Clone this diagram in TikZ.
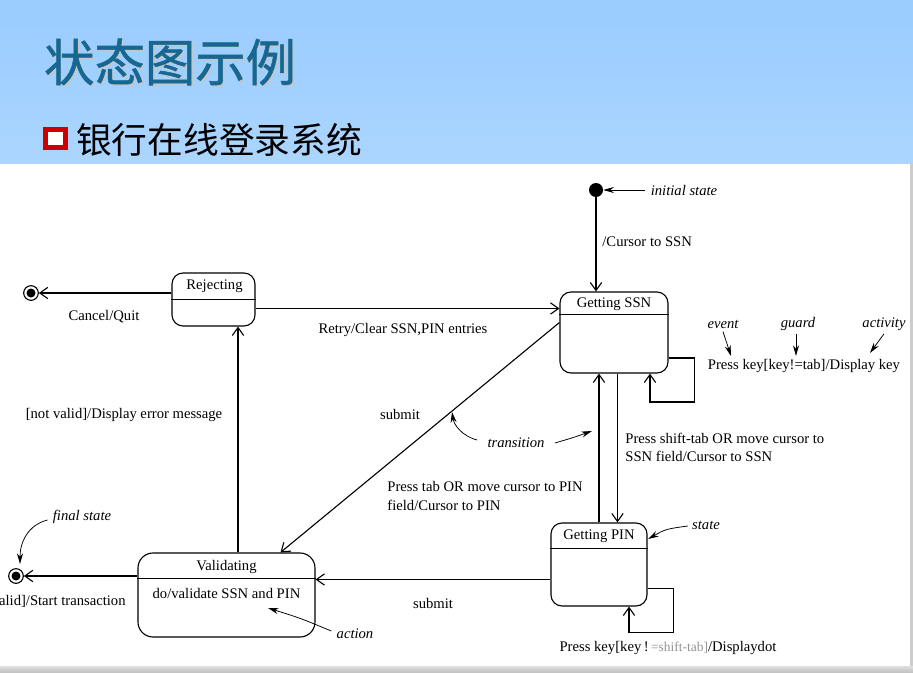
\documentclass[tikz,border=0pt]{standalone}
\usepackage{fontspec}
\setmainfont{Liberation Serif}
\newfontfamily\cjk{Noto Sans CJK SC}[AutoFakeBold=1.0]
\usetikzlibrary{arrows.meta,calc}
\definecolor{skyHead}{RGB}{153,204,255}
\definecolor{skyHeadB}{RGB}{171,213,255}
\definecolor{titleBlue}{RGB}{22,104,146}
\definecolor{bulletRed}{RGB}{204,0,0}

\begin{document}
\begin{tikzpicture}[x=0.03cm,y=-0.03cm,
    stbox/.style={draw,line width=0.95pt,rounded corners=0.33cm,inner sep=0pt},
    trans/.style={line width=0.95pt,-{Straight Barb[length=2.4mm,width=3.4mm]}},
    ann/.style={line width=0.65pt,-{Stealth[length=3.2mm,width=1.8mm]}},
    lbl/.style={font=\fontsize{12.5}{15.5}\selectfont,inner sep=1pt},
    note/.style={font=\fontsize{12.5}{15}\selectfont\itshape,inner sep=1pt},
    fin/.style={circle,draw,line width=0.95pt,minimum size=0.44cm,inner sep=0pt,
      path picture={\fill (path picture bounding box.center) circle (0.135cm);}}
  ]
    \useasboundingbox (0,0) rectangle (913,673);
    \clip (0,0) rectangle (913,673);
    % slide header
    \shade[top color=skyHead,bottom color=skyHeadB] (0,0) rectangle (913,163);
    \fill[gray!40] (910,163) rectangle (913,673);
    \shade[top color=gray!25,bottom color=gray!50] (0,666) rectangle (913,673);
    \node[anchor=west,text=gray!45] (ttlS) at (41.5,63.5) {\cjk\bfseries\fontsize{43}{50}\selectfont 状态图示例};
    \node[anchor=west,text=titleBlue] (ttl) at (40,62) {\cjk\bfseries\fontsize{43}{50}\selectfont 状态图示例};
    \filldraw[fill=white,draw=bulletRed,line width=4pt] (45.5,129.5) rectangle (65.5,147.5);
    \node[anchor=west] (sub) at (72,140) {\cjk\fontsize{30.5}{36}\selectfont 银行在线登录系统};

    % states
    \node[stbox,minimum width=3.24cm,minimum height=2.43cm] (ssn) at (614,332.5) {};
    \node[stbox,minimum width=2.88cm,minimum height=2.49cm] (pin) at (599,564.5) {};
    \node[stbox,rounded corners=0.45cm,minimum width=5.31cm,minimum height=2.52cm] (val) at (226.5,595) {};
    \node[stbox,minimum width=2.49cm,minimum height=1.59cm] (rej) at (213.5,299.5) {};
    \draw[line width=0.95pt] ($(ssn.north west)+(0,23)$) -- ($(ssn.north east)+(0,23)$);
    \draw[line width=0.95pt] ($(pin.north west)+(0,26)$) -- ($(pin.north east)+(0,26)$);
    \draw[line width=0.95pt] ($(val.north west)+(0,26)$) -- ($(val.north east)+(0,26)$);
    \draw[line width=0.95pt] ($(rej.north west)+(0,27)$) -- ($(rej.north east)+(0,27)$);
    \node[lbl] (ssnT) at ($(ssn.north)+(0,12.5)$) {Getting SSN};
    \node[lbl] (pinT) at ($(pin.north)+(0,14)$) {Getting PIN};
    \node[lbl] (valT) at ($(val.north)+(0,14.5)$) {Validating};
    \node[lbl] (valD) at ($(val.north)+(0,41)$) {do/validate SSN and PIN};
    \node[lbl] (rejT) at ($(rej.north)+(1,13.5)$) {Rejecting};

    \node[circle,fill,minimum size=0.42cm,inner sep=0pt] (init) at (596,190) {};
    \node[fin] (finA) at (31,293) {};
    \node[fin] (finB) at (16,576) {};

    % transitions
    \draw[trans] (init) -- (init |- ssn.north);
    \node[lbl,anchor=west] (lCur) at (601,242) {/Cursor to SSN};
    \draw[trans] (rej.west |- finA) -- (finA);
    \node[lbl] (lCan) at (104,317) {Cancel/Quit};
    \draw[trans] ($(rej.east)+(0,9)$) coordinate (r1) -- (r1 -| ssn.west);
    \node[lbl] (lRet) at (403,330) {Retry/Clear SSN,PIN entries};
    \draw[trans] ($(val.north)+(11.5,0)$) coordinate (v1) -- (v1 |- rej.south);
    \node[lbl] (lNot) at (124,415) {[not valid]/Display error message};
    \draw[trans] ($(ssn.west)+(0,-10)$) -- ($(val.north)+(54,0)$);
    \node[lbl] (lSub) at (400,414) {submit};
    \node[lbl,align=left,anchor=west] (lTab) at (386,496) {Press tab OR move cursor to PIN\\field/Cursor to PIN};
    \draw[trans] (pin.north) -- (pin.north |- ssn.south);
    \draw[trans] ($(ssn.south)+(3.5,0)$) coordinate (s2) -- (s2 |- pin.north);
    \node[lbl,align=left,anchor=west] (lShf) at (624,447.5) {Press shift-tab OR move cursor to\\SSN field/Cursor to SSN};
    \draw[trans] ($(ssn.east)+(0,25.5)$) -- ++(26,0) -- ++(0,44) -| ($(ssn.south)+(36,0)$);
    \node[lbl] (lKey) at (804,366) {Press key[key!=tab]/Display key};
    \draw[trans] ($(pin.east)+(0,24)$) -- ++(26,0) -- ++(0,44) -| ($(pin.south)+(30,0)$);
    \node[lbl] (lDot) at (668,648) {Press key[key\,!\,{\color{gray!85}\fontsize{11.5}{13}\selectfont=shift-tab]}/Displaydot};
    \draw[trans] ($(pin.west)+(0,15)$) coordinate (p1) -- (p1 -| val.east);
    \node[lbl] (lSub2) at (433,603) {submit};
    \draw[trans] (val.west |- finB) -- (finB);
    \node[lbl,anchor=east] (lVal) at (127,601) {[valid]/Start transaction};

    % annotations
    \node[note] (nInit) at (684,190) {initial state};
    \draw[ann] ($(nInit.west)+(-4,0)$) -- (init);
    \node[note] (nEv) at (723,324) {event};
    \node[note] (nGd) at (798,324) {guard};
    \node[note] (nAc) at (884,324) {activity};
    \coordinate (evTip) at (731,356);
    \coordinate (gdTip) at (796,356);
    \coordinate (acTip) at (870,353);
    \draw[ann] ($(nEv.south)+(0,2)$) -- (evTip);
    \draw[ann] ($(nGd.south)+(-2,2)$) -- (gdTip);
    \draw[ann] ($(nAc.south)+(0,2)$) -- (acTip);
    \node[note] (nTr) at (516,443) {transition};
    \coordinate (trA) at (452,412);
    \coordinate (trB) at (592,431);
    \draw[ann] ($(nTr.west)+(-9,-3)$) .. controls (462,436) and (454,425) .. (trA);
    \draw[ann] ($(nTr.east)+(9,0)$) .. controls (572,438) .. (trB);
    \node[note] (nSt) at (706,525) {state};
    \coordinate (stTip) at (648,539);
    \draw[ann] ($(nSt.west)+(-3,1)$) .. controls (666,529) .. (stTip);
    \node[note] (nFin) at (82,517) {final state};
    \coordinate (finTip) at (20,564);
    \draw[ann] ($(nFin.west)+(-4,3)$) .. controls (28,525) and (20,542) .. (finTip);
    \node[note] (nAct) at (355,634) {action};
    \coordinate (actTip) at (268,608);
    \draw[ann] ($(nAct.west)+(-4,-3)$) .. controls (300,618) .. (actTip);
  \end{tikzpicture}
\end{document}
